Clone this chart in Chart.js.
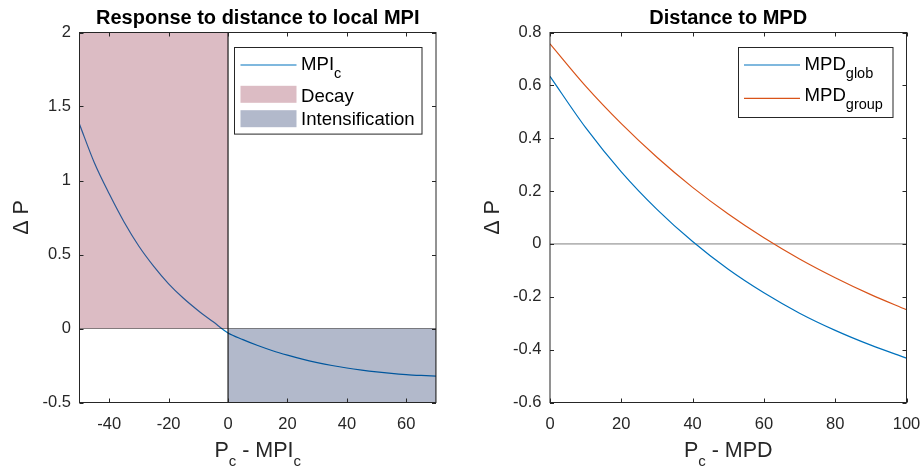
<!DOCTYPE html>
<html>
<head>
<meta charset="utf-8">
<script src="https://cdn.jsdelivr.net/npm/chart.js@4/dist/chart.umd.min.js"></script>
<style>
  html, body { margin: 0; padding: 0; background: #fff; }
  #wrap { position: relative; width: 924px; height: 470px; }
  #left { position: absolute; left: 0; top: 0; }
  #right { position: absolute; left: 460px; top: 0; }
</style>
</head>
<body>
<div id="wrap">
  <canvas id="left" width="460" height="470"></canvas>
  <canvas id="right" width="464" height="470"></canvas>
</div>
<script>
// left panel: response to distance to local MPI
const leftX = [-50, -45, -40, -35, -30, -25, -20, -15, -10, -5, 0, 5, 10, 15, 20, 25, 30, 35, 40, 45, 50, 55, 60, 65, 70];
const leftMPI = [1.38, 1.12, 0.91, 0.72, 0.556, 0.42, 0.302, 0.204, 0.12, 0.045, -0.03, -0.075, -0.115, -0.15, -0.18, -0.207, -0.23, -0.25, -0.267, -0.281, -0.293, -0.303, -0.311, -0.317, -0.322];
const decayX = [-50, -50, 0, 0, -50];
const decayY = [0, 2, 2, 0, 0];
const intensX = [0, 0, 70, 70, 0];
const intensY = [0, -0.5, -0.5, 0, 0];
const leftXTicks = [-40, -20, 0, 20, 40, 60];
const leftYTicks = [-0.5, 0, 0.5, 1, 1.5, 2];

// right panel: distance to MPD
const rightX = [0, 10, 20, 30, 40, 50, 60, 70, 80, 90, 100];
const mpdGlob = [0.634, 0.44, 0.273, 0.131, 0.009, -0.096, -0.185, -0.262, -0.327, -0.383, -0.432];
const mpdGroup = [0.757, 0.597, 0.455, 0.328, 0.214, 0.113, 0.023, -0.057, -0.128, -0.192, -0.249];
const zeroX = [0, 100];
const zeroY = [0, 0];
const rightXTicks = [0, 20, 40, 60, 80, 100];
const rightYTicks = [-0.6, -0.4, -0.2, 0, 0.2, 0.4, 0.6, 0.8];

const FONT = '"Liberation Sans", Arial, Helvetica, sans-serif';
const INK = 'rgb(38,38,38)';
const BLUE = 'rgb(0,114,189)';
const ORANGE = 'rgb(217,83,25)';

const pts = (xs, ys) => xs.map((x, i) => ({x: x, y: ys[i]}));

// text made of [string, isSubscript] pieces
function richWidth(ctx, parts, size, subSize) {
  let w = 0;
  parts.forEach(p => {
    ctx.font = (p[1] ? subSize : size) + 'px ' + FONT;
    w += ctx.measureText(p[0]).width;
  });
  return w;
}
function drawRich(ctx, parts, x, y, size, subSize, subDrop) {
  ctx.textAlign = 'left';
  ctx.textBaseline = 'alphabetic';
  parts.forEach(p => {
    ctx.font = (p[1] ? subSize : size) + 'px ' + FONT;
    ctx.fillText(p[0], x, p[1] ? y + subDrop : y);
    x += ctx.measureText(p[0]).width;
  });
}

const matlabAxes = {
  id: 'matlabAxes',
  afterDraw(chart, args, o) {
    const {ctx, chartArea: a, scales: {x, y}} = chart;
    ctx.save();
    ctx.strokeStyle = INK;
    ctx.lineWidth = 1;
    ctx.strokeRect(a.left, a.top, a.right - a.left, a.bottom - a.top);
    ctx.beginPath();
    x.ticks.forEach(t => {
      const px = Math.round(x.getPixelForValue(t.value)) + 0.5;
      ctx.moveTo(px, a.bottom); ctx.lineTo(px, a.bottom - 4);
      ctx.moveTo(px, a.top); ctx.lineTo(px, a.top + 4);
    });
    y.ticks.forEach(t => {
      const py = Math.round(y.getPixelForValue(t.value)) + 0.5;
      ctx.moveTo(a.left, py); ctx.lineTo(a.left + 4, py);
      ctx.moveTo(a.right, py); ctx.lineTo(a.right - 4, py);
    });
    ctx.stroke();

    ctx.fillStyle = 'rgb(0,0,0)';
    ctx.font = 'bold 20px ' + FONT;
    ctx.textAlign = 'center';
    ctx.textBaseline = 'alphabetic';
    ctx.fillText(o.title, (a.left + a.right) / 2, 23.5);

    ctx.fillStyle = INK;
    const xw = richWidth(ctx, o.xLabel, 21.5, 15);
    drawRich(ctx, o.xLabel, (a.left + a.right) / 2 - xw / 2, a.bottom + 54.5, 21.5, 15, 9);

    ctx.save();
    ctx.translate(a.left - 51.5, (a.top + a.bottom) / 2);
    ctx.rotate(-Math.PI / 2);
    ctx.font = '21.5px ' + FONT;
    ctx.textAlign = 'center';
    ctx.fillText(o.yLabel, 0, 0);
    ctx.restore();

    // legend box in the top right corner
    const L = o.legend;
    const bx = a.right - 14.5 - L.width, by = a.top + 14.2;
    ctx.fillStyle = '#fff';
    ctx.fillRect(bx, by, L.width, L.height);
    ctx.strokeStyle = INK;
    ctx.strokeRect(Math.round(bx) + 0.5, Math.round(by) + 0.5, L.width, L.height);
    L.rows.forEach(r => {
      if (r.kind === 'line') {
        ctx.strokeStyle = r.color;
        ctx.lineWidth = 1.2;
        ctx.beginPath();
        ctx.moveTo(bx + 6.5, by + r.y);
        ctx.lineTo(bx + 62.5, by + r.y);
        ctx.stroke();
      } else {
        ctx.fillStyle = r.color;
        ctx.fillRect(bx + 6.5, by + r.y - 8.5, 56, 17);
      }
      ctx.fillStyle = 'rgb(0,0,0)';
      drawRich(ctx, r.text, bx + 67, by + r.base, 18.6, 14.5, 8);
    });
    ctx.restore();
  }
};

function makeOptions(xMin, xMax, yMin, yMax, xTicks, yTicks, yAxisWidth, padRight, panel) {
  return {
    responsive: false,
    animation: false,
    layout: {padding: {left: 0, right: padRight, top: 32.5, bottom: 0}},
    plugins: {
      legend: {display: false},
      tooltip: {enabled: false},
      matlabAxes: panel
    },
    elements: {point: {radius: 0}},
    scales: {
      x: {
        type: 'linear', min: xMin, max: xMax,
        grid: {display: false, drawTicks: false},
        border: {display: false},
        afterBuildTicks: s => { s.ticks = xTicks.map(v => ({value: v})); },
        afterFit: s => { s.height = 67.5; s.paddingLeft = 0; s.paddingRight = 0; },
        ticks: {color: INK, padding: 12, font: {family: FONT, size: 16.5}, callback: v => String(v)}
      },
      y: {
        type: 'linear', min: yMin, max: yMax,
        grid: {display: false, drawTicks: false},
        border: {display: false},
        afterBuildTicks: s => { s.ticks = yTicks.map(v => ({value: v})); },
        afterFit: s => { s.width = yAxisWidth; s.paddingTop = 0; s.paddingBottom = 0; },
        ticks: {color: INK, padding: 8.5, font: {family: FONT, size: 16.5}, callback: v => String(v)}
      }
    }
  };
}

new Chart(document.getElementById('left'), {
  type: 'line',
  data: {
    datasets: [
      {data: pts(leftX, leftMPI), borderColor: BLUE, borderWidth: 1.2, cubicInterpolationMode: 'monotone', fill: false, order: 3},
      {data: pts(decayX, decayY), borderColor: 'rgba(0,0,0,0.45)', borderWidth: 1, backgroundColor: 'rgba(138,32,58,0.3)', fill: 'shape', tension: 0, order: 1},
      {data: pts(intensX, intensY), borderColor: 'rgba(0,0,0,0.45)', borderWidth: 1, backgroundColor: 'rgba(0,22,82,0.3)', fill: 'shape', tension: 0, order: 1}
    ]
  },
  options: makeOptions(-50, 70, -0.5, 2, leftXTicks, leftYTicks, 79.5, 24, {
    title: 'Response to distance to local MPI',
    xLabel: [['P', false], ['c', true], [' - MPI', false], ['c', true]],
    yLabel: '\u0394 P',
    legend: {
      width: 187.5, height: 86.6,
      rows: [
        {kind: 'line', color: BLUE, y: 18.3, base: 23, text: [['MPI', false], ['c', true]]},
        {kind: 'patch', color: 'rgb(220,188,196)', y: 47.6, base: 55.6, text: [['Decay', false]]},
        {kind: 'patch', color: 'rgb(178,185,203)', y: 72, base: 78.3, text: [['Intensification', false]]}
      ]
    }
  }),
  plugins: [matlabAxes]
});

new Chart(document.getElementById('right'), {
  type: 'line',
  data: {
    datasets: [
      {data: pts(zeroX, zeroY), borderColor: 'rgb(128,128,128)', borderWidth: 1, fill: false, order: 3},
      {data: pts(rightX, mpdGlob), borderColor: BLUE, borderWidth: 1.2, cubicInterpolationMode: 'monotone', fill: false, order: 2},
      {data: pts(rightX, mpdGroup), borderColor: ORANGE, borderWidth: 1.2, cubicInterpolationMode: 'monotone', fill: false, order: 1}
    ]
  },
  options: makeOptions(0, 100, -0.6, 0.8, rightXTicks, rightYTicks, 90, 17.5, {
    title: 'Distance to MPD',
    xLabel: [['P', false], ['c', true], [' - MPD', false]],
    yLabel: '\u0394 P',
    legend: {
      width: 154.5, height: 70,
      rows: [
        {kind: 'line', color: BLUE, y: 18.3, base: 23.3, text: [['MPD', false], ['glob', true]]},
        {kind: 'line', color: ORANGE, y: 51.6, base: 54.3, text: [['MPD', false], ['group', true]]}
      ]
    }
  }),
  plugins: [matlabAxes]
});
</script>
</body>
</html>
